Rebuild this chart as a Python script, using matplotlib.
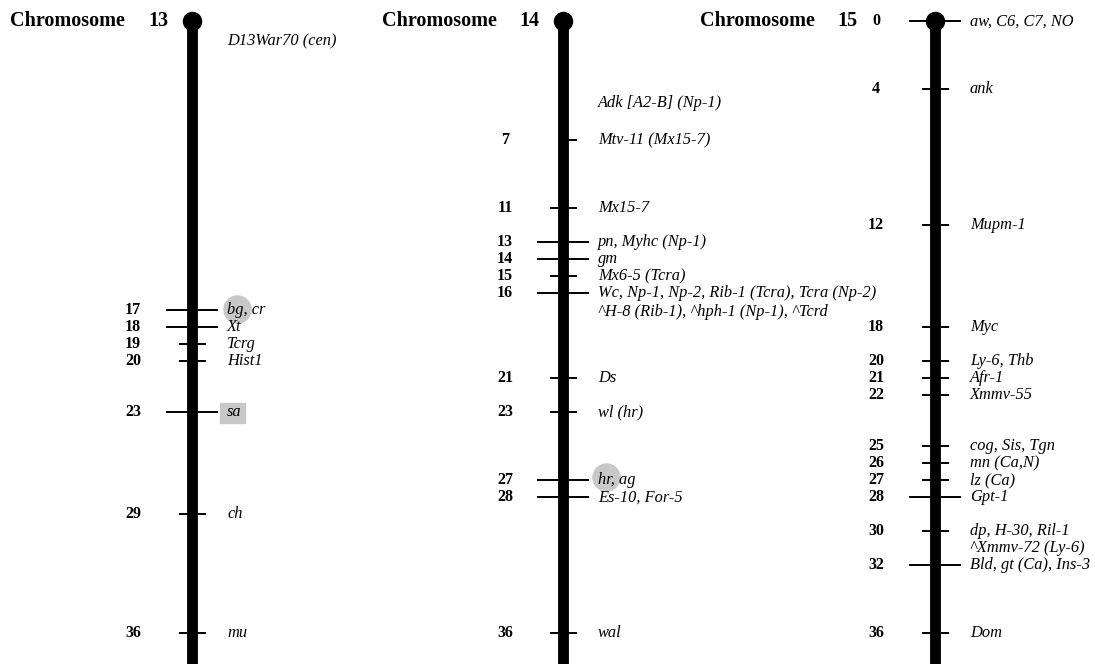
import matplotlib.pyplot as plt
from matplotlib.patches import Rectangle

# map positions in cM and gene labels for each chromosome
chr13_cm = [17, 18, 19, 20, 23, 29, 36]
chr13_genes = ['bg, cr', 'Xt', 'Tcrg', 'Hist1', 'sa', 'ch', 'mu']
chr13_long = [17, 18, 23]

chr14_cm = [7, 11, 13, 14, 15, 16, 21, 23, 27, 28, 36]
chr14_genes = ['Mtv-11 (Mx15-7)', 'Mx15-7', 'pn, Myhc (Np-1)', 'gm', 'Mx6-5 (Tcra)',
               'Wc, Np-1, Np-2, Rib-1 (Tcra), Tcra (Np-2)', 'Ds', 'wl (hr)',
               'hr, ag', 'Es-10, For-5', 'wal']
chr14_long = [13, 14, 16, 27, 28]

chr15_cm = [0, 4, 12, 18, 20, 21, 22, 25, 26, 27, 28, 30, 32, 36]
chr15_genes = ['aw, C6, C7, NO', 'ank', 'Mupm-1', 'Myc', 'Ly-6, Thb', 'Afr-1', 'Xmmv-55',
               'cog, Sis, Tgn', 'mn (Ca,N)', 'lz (Ca)', 'Gpt-1', 'dp, H-30, Ril-1',
               'Bld, gt (Ca), Ins-3', 'Dom']
chr15_long = [0, 28, 32]

# labels without a tick of their own
extra13 = [(1.2, 'D13War70 (cen)')]
extra14 = [(4.8, 'Adk [A2-B] (Np-1)'), (17.1, '^H-8 (Rib-1), ^hph-1 (Np-1), ^Tcrd')]
extra15 = [(31.0, '^Xmmv-72 (Ly-6)')]

chromosomes = [
    # name, bar x, number x, label x, title x, title number x, data
    ('13', 192, 133, 227, 10, 148, chr13_cm, chr13_genes, chr13_long, extra13),
    ('14', 563, 505, 598, 382, 519, chr14_cm, chr14_genes, chr14_long, extra14),
    ('15', 935, 876, 970, 700, 837, chr15_cm, chr15_genes, chr15_long, extra15),
]

fig = plt.figure(figsize=(10.95, 6.64), dpi=100)
ax = fig.add_axes([0, 0, 1, 1])
ax.set_xlim(0, 1095)
ax.set_ylim(37.8, -1.25)
ax.axis('off')

serif = 'Liberation Serif'
for name, bx, nx, lx, tx, tnx, cms, genes, longs, extra in chromosomes:
    ax.plot([bx, bx], [0, 40], color='black', lw=7.8, solid_capstyle='butt', zorder=3)
    ax.plot([bx], [0], 'o', color='black', ms=13, zorder=3)
    ax.text(tx, 0, 'Chromosome', fontsize=14.5, fontweight='bold', family=serif,
            ha='left', va='center')
    ax.text(tnx, 0, name, fontsize=14.5, fontweight='bold', family=serif,
            ha='left', va='center')
    for cm, gene in zip(cms, genes):
        half = 25 if cm in longs else 12.5
        if name == '14' and cm == 7:
            ax.plot([bx, bx + half], [cm, cm], color='black', lw=1.4, zorder=2)
        else:
            ax.plot([bx - half, bx + half], [cm, cm], color='black', lw=1.4, zorder=2)
        ax.text(nx, cm, str(cm), fontsize=11.5, fontweight='bold', family=serif,
                ha='center', va='center')
        ax.text(lx, cm, gene, fontsize=11.8, style='italic', family=serif,
                ha='left', va='center', zorder=4)
    for cm, gene in extra:
        ax.text(lx, cm, gene, fontsize=11.8, style='italic', family=serif,
                ha='left', va='center', zorder=4)

# grey highlights
ax.add_patch(Rectangle((220, 22.45), 25, 1.15, color='#c8c8c8', zorder=1))
ax.scatter([237, 606], [16.9, 26.8], s=420, color='#c8c8c8', zorder=1, linewidths=0)

fig.savefig('out.png', dpi=100)
